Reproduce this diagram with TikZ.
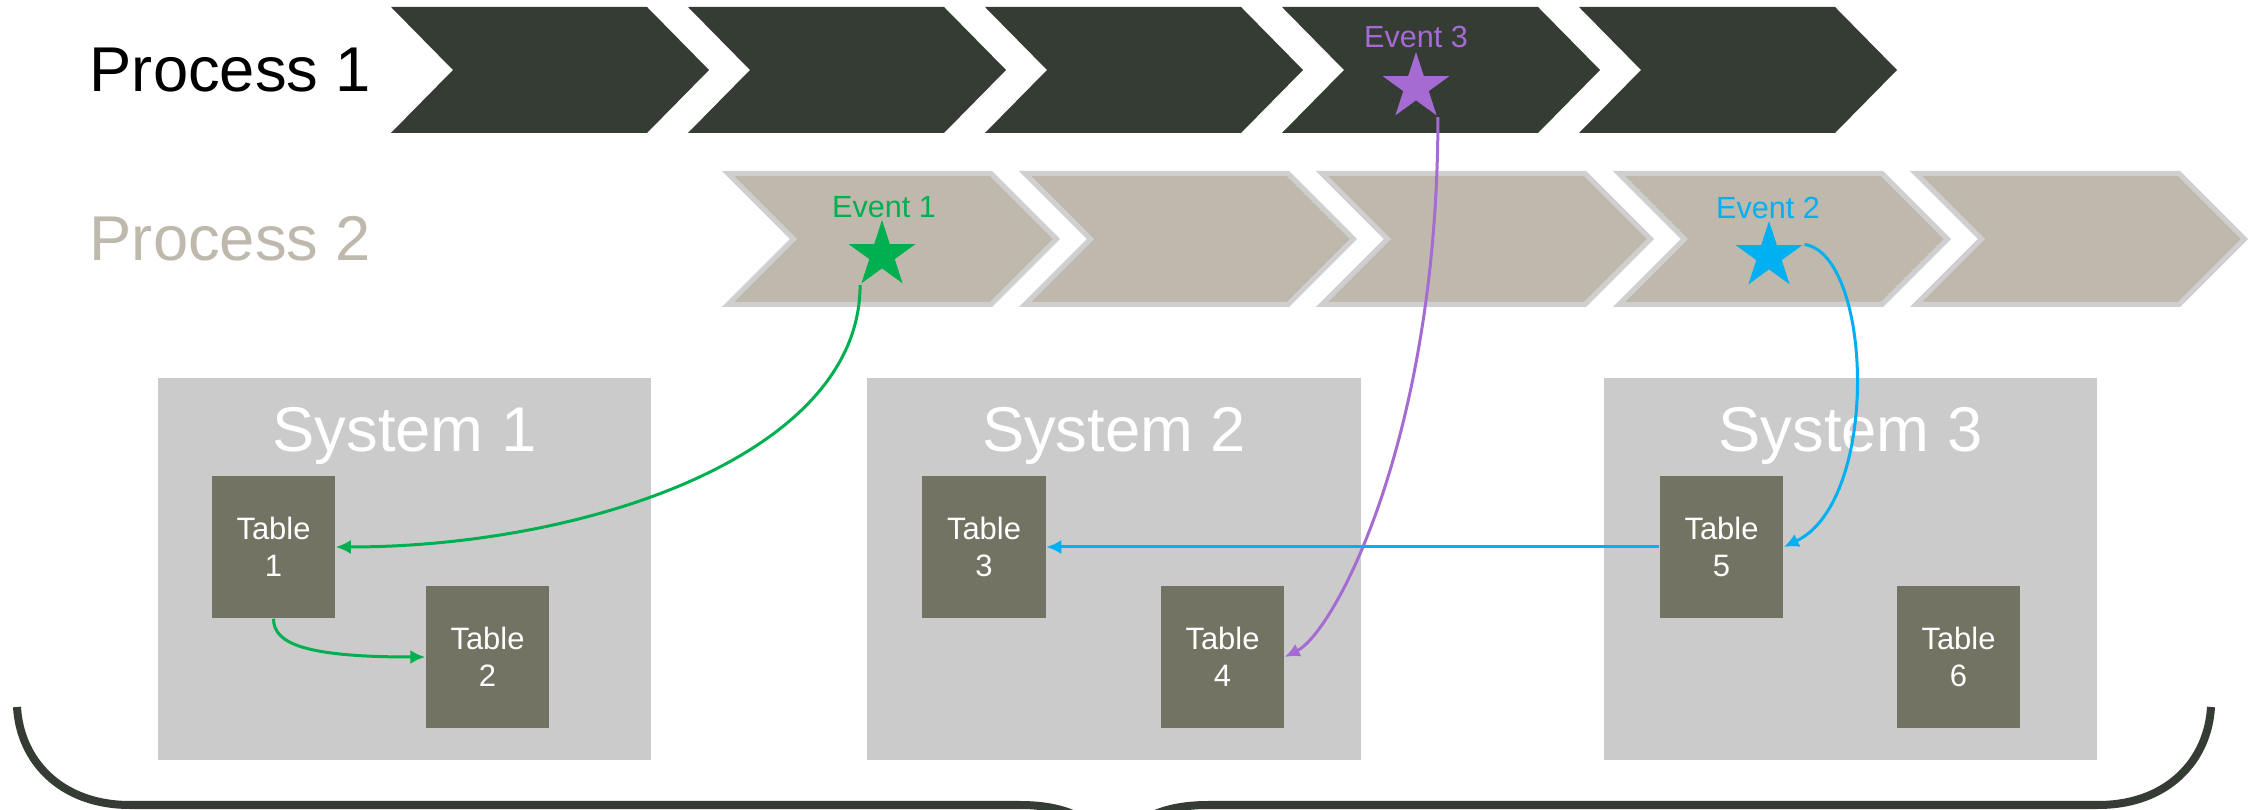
\documentclass[tikz,border=0pt]{standalone}
\usepackage{fontspec}
\setmainfont{Liberation Sans}
\usetikzlibrary{shapes.geometric,arrows.meta}
\definecolor{pdark}{HTML}{343C33}
\definecolor{ptan}{HTML}{BFB8AC}
\definecolor{pedge}{HTML}{CFCFCF}
\definecolor{sysgray}{HTML}{CBCBCB}
\definecolor{tblgray}{HTML}{727363}
\definecolor{evgreen}{HTML}{00B050}
\definecolor{evblue}{HTML}{00B0F0}
\definecolor{evpurple}{HTML}{A66BD3}

\begin{document}
\begin{tikzpicture}[x=0.01cm,y=-0.01cm]
    \def\dx{297}
    \def\ax{391}
    \def\bx{722}

    \tikzstyle{proc}=[inner sep=0pt,anchor=west,font=\fontsize{18}{22}\selectfont]
    \tikzstyle{pone}=[fill=pdark]
    \tikzstyle{ptwo}=[fill=ptan,draw=pedge,line width=0.05cm]
    \tikzstyle{sysbox}=[fill=sysgray,minimum width=4.93cm,minimum height=3.82cm,inner sep=0pt]
    \tikzstyle{systitle}=[text=white,anchor=base,inner sep=0pt,font=\fontsize{18}{22}\selectfont]
    \tikzstyle{tbl}=[fill=tblgray,text=white,minimum width=1.23cm,minimum height=1.42cm,inner sep=0pt,align=center,font=\fontsize{8.8}{10.6}\selectfont]
    \tikzstyle{event}=[star,star points=5,star point ratio=2.618,minimum size=0.7cm,inner sep=0pt]
    \tikzstyle{evtext}=[anchor=base,inner sep=0pt,font=\fontsize{8.7}{10}\selectfont]
    \tikzstyle{bigbrace}=[draw=pdark,line width=0.08cm]

    \useasboundingbox (0,0) rectangle (2254,810);

    \node[proc] (p1l) at (89,70) {Process 1};
    \node[proc,text=ptan] (p2l) at (89,239) {Process 2};

    % process 1
    \fill[pone] (\ax+0*\dx,7) -- ++(256,0) -- ++(62,63) -- ++(-62,63) -- ++(-256,0) -- ++(62,-63) -- cycle;
    \fill[pone] (\ax+1*\dx,7) -- ++(256,0) -- ++(62,63) -- ++(-62,63) -- ++(-256,0) -- ++(62,-63) -- cycle;
    \fill[pone] (\ax+2*\dx,7) -- ++(256,0) -- ++(62,63) -- ++(-62,63) -- ++(-256,0) -- ++(62,-63) -- cycle;
    \fill[pone] (\ax+3*\dx,7) -- ++(256,0) -- ++(62,63) -- ++(-62,63) -- ++(-256,0) -- ++(62,-63) -- cycle;
    \fill[pone] (\ax+4*\dx,7) -- ++(256,0) -- ++(62,63) -- ++(-62,63) -- ++(-256,0) -- ++(62,-63) -- cycle;

    % process 2
    \filldraw[ptwo] (\bx+0*\dx+6,173.5) -- ++(263,0) -- ++(65.5,65.5) -- ++(-65.5,65.5) -- ++(-263,0) -- ++(65.5,-65.5) -- cycle;
    \filldraw[ptwo] (\bx+1*\dx+6,173.5) -- ++(263,0) -- ++(65.5,65.5) -- ++(-65.5,65.5) -- ++(-263,0) -- ++(65.5,-65.5) -- cycle;
    \filldraw[ptwo] (\bx+2*\dx+6,173.5) -- ++(263,0) -- ++(65.5,65.5) -- ++(-65.5,65.5) -- ++(-263,0) -- ++(65.5,-65.5) -- cycle;
    \filldraw[ptwo] (\bx+3*\dx+6,173.5) -- ++(263,0) -- ++(65.5,65.5) -- ++(-65.5,65.5) -- ++(-263,0) -- ++(65.5,-65.5) -- cycle;
    \filldraw[ptwo] (\bx+4*\dx+6,173.5) -- ++(263,0) -- ++(65.5,65.5) -- ++(-65.5,65.5) -- ++(-263,0) -- ++(65.5,-65.5) -- cycle;

    \node[event,fill=evgreen] (e1) at (882,255) {};
    \node[evtext,text=evgreen] (e1l) at (884,218) {Event 1};
    \node[event,fill=evblue] (e2) at (1769,256) {};
    \node[evtext,text=evblue] (e2l) at (1768,219) {Event 2};
    \node[event,fill=evpurple] (e3) at (1416,87) {};
    \node[evtext,text=evpurple] (e3l) at (1416,48) {Event 3};

    \node[sysbox] (s1) at (404.5,569) {};
    \node[systitle] (s1l) at (404.5,452) {System 1};
    \node[tbl] (t1) at (273.5,547) {Table\\1};
    \node[tbl] (t2) at (487.5,657) {Table\\2};

    \node[sysbox] (s2) at (1114,569) {};
    \node[systitle] (s2l) at (1114,452) {System 2};
    \node[tbl] (t3) at (984,547) {Table\\3};
    \node[tbl] (t4) at (1222.5,657) {Table\\4};

    \node[sysbox] (s3) at (1850.5,569) {};
    \node[systitle] (s3l) at (1850.5,452) {System 3};
    \node[tbl] (t5) at (1721.5,547) {Table\\5};
    \node[tbl] (t6) at (1958.5,657) {Table\\6};

    \draw[bigbrace] (17,707) .. controls (20,760) and (60,805) .. (130,805) -- (1020,805)
        .. controls (1080,805) and (1114,830) .. (1114,880)
        .. controls (1114,830) and (1148,805) .. (1208,805) -- (2098,805)
        .. controls (2168,805) and (2208,760) .. (2211,707);

    \tikzstyle{link}=[line width=0.03cm,-{Latex[length=0.15cm,width=0.14cm]}]

    \draw[link,evgreen] (e1.outer point 3) .. controls +(0,170) and +(250,0) .. (t1.east);
    \draw[link,evgreen] (t1.south) .. controls +(0,25) and +(-120,0) .. (t2.west);
    \draw[link,evpurple] (e3.outer point 4) .. controls +(0,320) and +(50,-25) .. (t4.east);
    \draw[link,evblue] (e2.outer point 5) .. controls +(68,10) and +(97,-46) .. (t5.east);
    \draw[link,evblue] (t5.west) -- (t3.east);

\end{tikzpicture}
\end{document}
